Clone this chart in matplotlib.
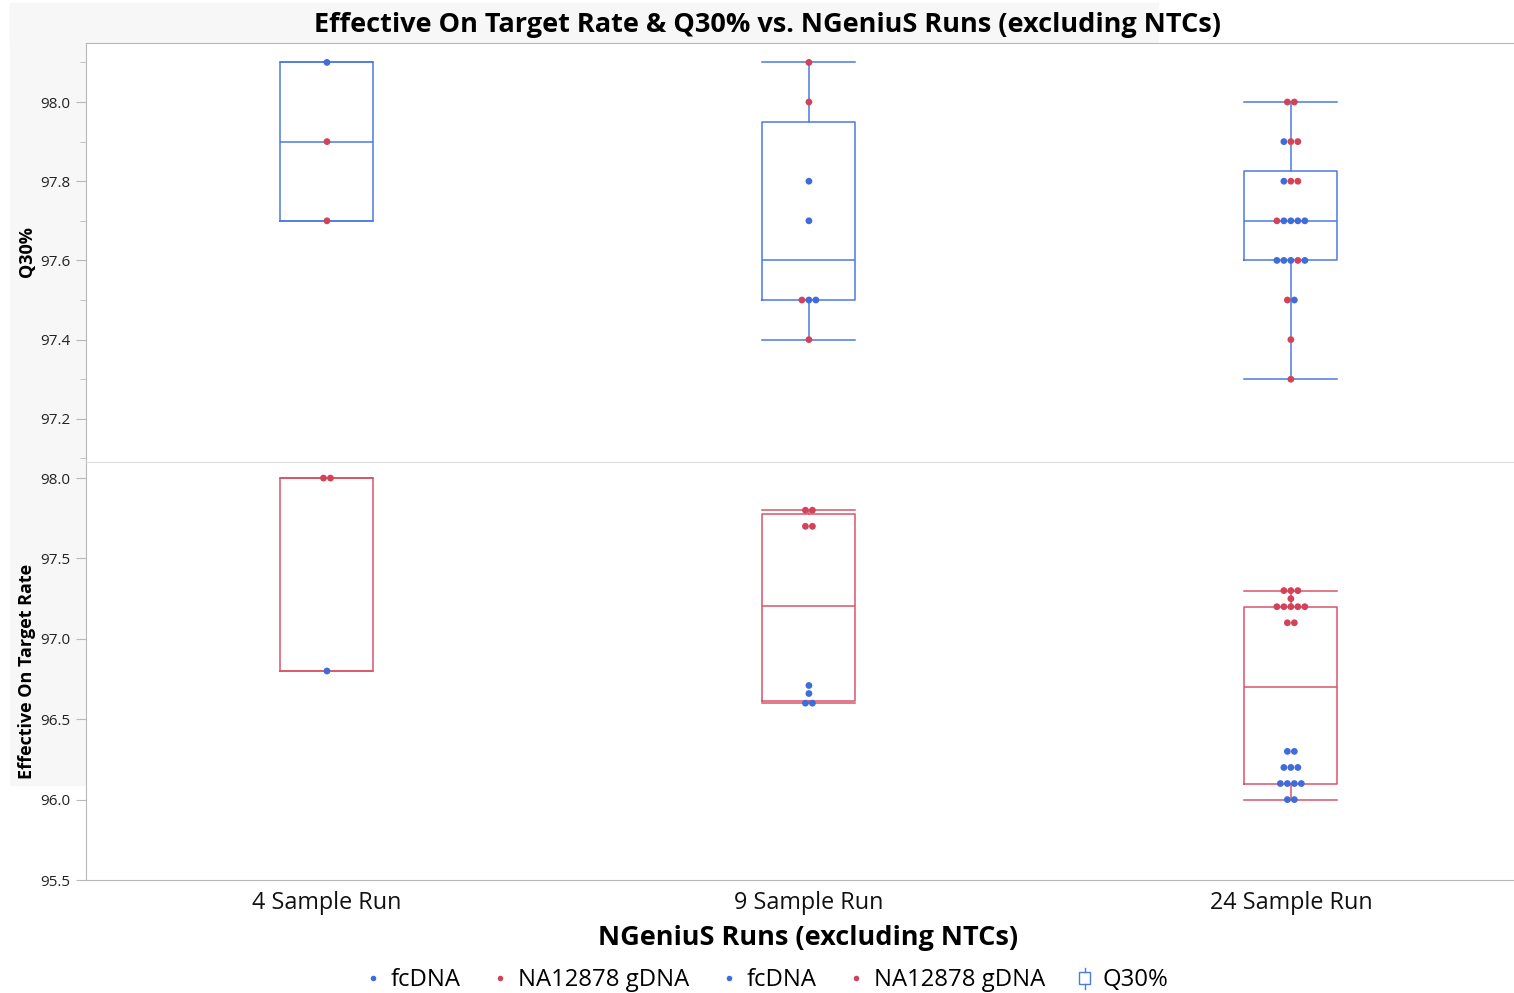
import numpy as np
import matplotlib
matplotlib.use("Agg")
import matplotlib.pyplot as plt
from matplotlib.lines import Line2D
from matplotlib.patches import Rectangle
from matplotlib.legend_handler import HandlerBase
from collections import Counter

plt.rcParams['font.family'] = ['Open Sans', 'Noto Sans', 'DejaVu Sans']

# ---------------- data ----------------
runs = ["4 Sample Run", "9 Sample Run", "24 Sample Run"]

q30_4 = [98.1, 97.9, 97.7]
q30_4_type = ["fcDNA", "NA12878 gDNA", "NA12878 gDNA"]
q30_9 = [98.1, 98.0, 97.8, 97.7, 97.5, 97.5, 97.5, 97.4]
q30_9_type = ["NA12878 gDNA", "NA12878 gDNA", "fcDNA", "fcDNA",
              "NA12878 gDNA", "fcDNA", "fcDNA", "NA12878 gDNA"]
q30_24 = [98.0, 98.0,
          97.9, 97.9, 97.9,
          97.8, 97.8, 97.8,
          97.7, 97.7, 97.7, 97.7, 97.7,
          97.6, 97.6, 97.6, 97.6, 97.6,
          97.5, 97.5,
          97.4,
          97.3]
q30_24_type = ["NA12878 gDNA", "NA12878 gDNA",
               "fcDNA", "NA12878 gDNA", "NA12878 gDNA",
               "fcDNA", "NA12878 gDNA", "NA12878 gDNA",
               "NA12878 gDNA", "fcDNA", "fcDNA", "fcDNA", "fcDNA",
               "fcDNA", "fcDNA", "fcDNA", "NA12878 gDNA", "fcDNA",
               "NA12878 gDNA", "fcDNA",
               "NA12878 gDNA",
               "NA12878 gDNA"]

ot_4 = [98.0, 98.0, 96.8]
ot_4_type = ["NA12878 gDNA", "NA12878 gDNA", "fcDNA"]
ot_9 = [97.8, 97.8, 97.7, 97.7, 96.71, 96.66, 96.6, 96.6]
ot_9_type = ["NA12878 gDNA"] * 4 + ["fcDNA"] * 4
ot_24 = [97.3, 97.3, 97.3,
         97.25,
         97.2, 97.2, 97.2, 97.2, 97.2,
         97.1, 97.1,
         96.3, 96.3,
         96.2, 96.2, 96.2,
         96.1, 96.1, 96.1, 96.1,
         96.0, 96.0]
ot_24_type = ["NA12878 gDNA"] * 11 + ["fcDNA"] * 11

q30_data = [q30_4, q30_9, q30_24]
q30_types = [q30_4_type, q30_9_type, q30_24_type]
ot_data = [ot_4, ot_9, ot_24]
ot_types = [ot_4_type, ot_9_type, ot_24_type]

# ---------------- style ----------------
BLUE = "#3F6BDB"
RED = "#D2435A"
BOX_BLUE = "#4A7BE3"
BOX_RED = "#D9556B"
type_color = {"fcDNA": BLUE, "NA12878 gDNA": RED}
SPINE = "#b8b8b8"

W, H = 1514, 993
fig = plt.figure(figsize=(W / 100, H / 100), dpi=100)

# light gray header/side band
fig.patches.append(Rectangle((10 / W, 1 - 785 / H), 75 / W, 782 / H,
                             transform=fig.transFigure, color="#f7f7f7", zorder=-10))
fig.patches.append(Rectangle((10 / W, 1 - 42 / H), 1148 / W, 39 / H,
                             transform=fig.transFigure, color="#f7f7f7", zorder=-10))

ax_l, ax_r = 86 / W, 1.0
ax_top = fig.add_axes([ax_l, 1 - 462 / H, ax_r - ax_l, 419 / H])
ax_bot = fig.add_axes([ax_l, 1 - 880 / H, ax_r - ax_l, 418 / H], sharex=ax_top)

box_w = 0.193
dx = 0.0145
pos = np.arange(len(runs))


def box_stats(vals):
    v = np.asarray(vals)
    q1, med, q3 = np.quantile(v, [0.25, 0.5, 0.75], method="weibull")
    return dict(med=med, q1=q1, q3=q3, whislo=v.min(), whishi=v.max(), fliers=[])


def offsets(vals):
    tot = Counter(vals)
    seen = Counter()
    out = []
    for v in vals:
        k = seen[v]
        seen[v] += 1
        out.append((k - (tot[v] - 1) / 2) * dx)
    return np.array(out)


def draw_panel(ax, data, types, boxcol):
    stats = [box_stats(d) for d in data]
    lp = dict(color=boxcol, linewidth=1.1)
    ax.bxp(stats, positions=pos, widths=box_w, capwidths=box_w, showfliers=False,
           boxprops=lp, whiskerprops=lp, capprops=lp, medianprops=lp,
           manage_ticks=False, zorder=2)
    for i, (d, t) in enumerate(zip(data, types)):
        xs = pos[i] + offsets(d)
        cols = [type_color[s] for s in t]
        ax.scatter(xs, d, s=24, c=cols, linewidths=0, zorder=3)


draw_panel(ax_top, q30_data, q30_types, BOX_BLUE)
draw_panel(ax_bot, ot_data, ot_types, BOX_RED)

ax_top.set_xlim(-0.5, 2.463)
ax_top.set_ylim(97.091, 98.149)
ax_bot.set_ylim(95.5, 98.1)

ax_top.set_yticks([97.2, 97.4, 97.6, 97.8, 98.0])
ax_top.set_yticks(np.arange(97.1, 98.15, 0.1), minor=True)
ax_top.yaxis.set_major_formatter(matplotlib.ticker.FormatStrFormatter("%.1f"))
ax_bot.set_yticks([95.5, 96.0, 96.5, 97.0, 97.5, 98.0])
ax_bot.yaxis.set_major_formatter(matplotlib.ticker.FormatStrFormatter("%.1f"))

for ax in (ax_top, ax_bot):
    ax.set_facecolor("white")
    ax.spines["right"].set_visible(False)
    ax.spines["left"].set_color(SPINE)
    ax.tick_params(axis="y", which="major", length=7, color=SPINE, labelsize=11, pad=4,
                   labelcolor="#222222")
    ax.tick_params(axis="y", which="minor", length=4, color=SPINE)

ax_top.spines["bottom"].set_visible(False)
ax_top.spines["top"].set_color(SPINE)
ax_top.tick_params(axis="x", which="both", bottom=False, labelbottom=False)
ax_bot.spines["top"].set_color("#dcdcdc")
ax_bot.spines["bottom"].set_color(SPINE)
ax_bot.set_xticks(pos)
ax_bot.set_xticklabels(runs)
ax_bot.tick_params(axis="x", length=0, labelsize=16.8, pad=8, labelcolor="#111111")

fig.text(27 / W, 1 - 252 / H, "Q30%", rotation=90, ha="center", va="center",
         fontsize=13, fontweight="bold")
fig.text(27 / W, 1 - 671 / H, "Effective On Target Rate", rotation=90, ha="center",
         va="center", fontsize=13, fontweight="bold")

fig.text(767 / W, 1 - 25 / H, "Effective On Target Rate & Q30% vs. NGeniuS Runs (excluding NTCs)",
         ha="center", va="center", fontsize=19.5, fontweight="bold")
fig.text(808 / W, 1 - 938 / H, "NGeniuS Runs (excluding NTCs)", ha="center", va="center",
         fontsize=19.5, fontweight="bold")


class BoxIcon:
    pass


class HandlerBoxIcon(HandlerBase):
    def create_artists(self, legend, orig_handle, xdescent, ydescent, width, height,
                       fontsize, trans):
        cx = width / 2 - xdescent
        y0 = -ydescent
        bw = 8
        r = Rectangle((cx - bw / 2, y0 + height * 0.1), bw, height * 0.75, fill=False,
                      ec=BOX_BLUE, lw=1, transform=trans)
        l1 = Line2D([cx, cx], [y0 - height * 0.2, y0 + height * 0.1], color=BOX_BLUE,
                    lw=1, transform=trans)
        l2 = Line2D([cx, cx], [y0 + height * 0.85, y0 + height * 1.1], color=BOX_BLUE,
                    lw=1, transform=trans)
        return [r, l1, l2]


handles = [Line2D([], [], ls="none", marker="o", ms=4, mfc=BLUE, mec="none"),
           Line2D([], [], ls="none", marker="o", ms=4, mfc=RED, mec="none"),
           Line2D([], [], ls="none", marker="o", ms=4, mfc=BLUE, mec="none"),
           Line2D([], [], ls="none", marker="o", ms=4, mfc=RED, mec="none"),
           BoxIcon()]
labels = ["fcDNA", "NA12878 gDNA", "fcDNA", "NA12878 gDNA", "Q30%"]
fig.legend(handles, labels, loc="center", bbox_to_anchor=(766 / W, 1 - 980 / H),
           ncol=5, frameon=False, fontsize=17.2, handlelength=0.8, handletextpad=0.35,
           columnspacing=1.25, handler_map={BoxIcon: HandlerBoxIcon()})

fig.savefig("out.png", dpi=100)
